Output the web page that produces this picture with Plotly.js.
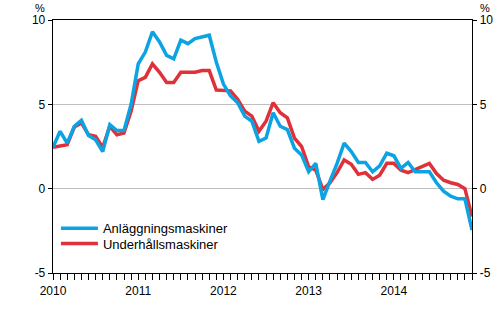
<!DOCTYPE html>
<html>
<head>
<meta charset="utf-8">
<script src="https://cdn.plot.ly/plotly-3.0.1.min.js"></script>
<style>html,body{margin:0;padding:0;background:#fff;}#chart{width:500px;height:330px;}</style>
</head>
<body>
<div id="chart"></div>
<script>
// Months Jan 2010 .. Dec 2014
var years = ["2010", "2011", "2012", "2013", "2014"];
var monthNums = ["01","02","03","04","05","06","07","08","09","10","11","12"];
var months = [];
years.forEach(function (y) { monthNums.forEach(function (m) { months.push(y + "-" + m); }); });

var seriesNames = ["Anläggningsmaskiner", "Underhållsmaskiner"];

var anlaggning = [
  2.45, 3.4, 2.7, 3.7, 4.05, 3.15, 2.9, 2.2, 3.8, 3.45, 3.45, 5.0,
  7.4, 8.1, 9.3, 8.7, 7.9, 7.7, 8.8, 8.6, 8.9, 9.0, 9.1, 7.5,
  6.2, 5.5, 5.1, 4.3, 4.0, 2.8, 3.0, 4.5, 3.7, 3.5, 2.4, 2.0,
  1.0, 1.5, -0.65, 0.45, 1.5, 2.7, 2.2, 1.55, 1.55, 1.0, 1.35, 2.1,
  1.95, 1.2, 1.55, 1.0, 1.0, 1.0, 0.35, -0.15, -0.45, -0.6, -0.6, -2.45
];
var underhall = [
  2.45, 2.55, 2.6, 3.65, 3.9, 3.2, 3.1, 2.45, 3.7, 3.2, 3.3, 4.6,
  6.4, 6.6, 7.4, 6.9, 6.3, 6.3, 6.9, 6.9, 6.9, 7.0, 7.0, 5.85,
  5.85, 5.8, 5.3, 4.6, 4.3, 3.4, 4.0, 5.1, 4.5, 4.2, 3.0, 2.5,
  1.3, 1.1, -0.05, 0.35, 0.95, 1.7, 1.45, 0.85, 0.95, 0.55, 0.8, 1.5,
  1.5, 1.1, 0.95, 1.15, 1.3, 1.5, 0.9, 0.5, 0.35, 0.25, 0.0, -1.65
];

var yTicks = [-5, 0, 5, 10];
var yTickText = ["-5", "0", "5", "10"];

var tickText = months.map(function (m) { return m.slice(5) === "01" ? m.slice(0, 4) : ""; });

var FONT = "Liberation Sans, Arial, sans-serif";

var traces = [
  { x: months, y: underhall, name: seriesNames[1], type: "scatter", mode: "lines",
    line: { color: "#e0313a", width: 3.5 }, legend: "legend2" },
  { x: months, y: anlaggning, name: seriesNames[0], type: "scatter", mode: "lines",
    line: { color: "#0ca3e2", width: 3.5 }, legend: "legend" }
];

var yaxisCommon = {
  range: [-5, 10], tickvals: yTicks, ticktext: yTickText,
  showline: true, linecolor: "#000", linewidth: 1.3,
  ticks: "outside", ticklen: 4, tickcolor: "#000",
  zeroline: false, fixedrange: true,
  tickfont: { family: FONT, size: 12, color: "#000" }
};

var legendCommon = {
  x: 0.007, xanchor: "left", yanchor: "top",
  bgcolor: "rgba(0,0,0,0)", font: { family: FONT, size: 13, color: "#000" },
  itemwidth: 37
};

var layout = {
  width: 500, height: 330,
  margin: { l: 53, r: 28, t: 20, b: 57 },
  paper_bgcolor: "#fff", plot_bgcolor: "#fff",
  showlegend: true,
  legend: Object.assign({}, legendCommon, { y: 0.236 }),
  legend2: Object.assign({}, legendCommon, { y: 0.176 }),
  xaxis: {
    type: "category", range: [0, 59],
    tickvals: months, ticktext: tickText,
    showline: true, linecolor: "#000", linewidth: 1.3, mirror: true,
    ticks: "outside", ticklen: 6, tickcolor: "#000",
    showgrid: false, zeroline: false, fixedrange: true,
    tickfont: { family: FONT, size: 12, color: "#000" }
  },
  yaxis: Object.assign({}, yaxisCommon, { showgrid: true, gridcolor: "#c0c0c0", gridwidth: 1 }),
  yaxis2: Object.assign({}, yaxisCommon, { overlaying: "y", side: "right", showgrid: false }),
  annotations: [
    { text: "%", xref: "paper", yref: "paper", x: -0.03, y: 1.0, xanchor: "center", yanchor: "bottom",
      yshift: 4, showarrow: false, font: { family: FONT, size: 11, color: "#000" } },
    { text: "%", xref: "paper", yref: "paper", x: 1.03, y: 1.0, xanchor: "center", yanchor: "bottom",
      yshift: 4, showarrow: false, font: { family: FONT, size: 11, color: "#000" } }
  ]
};

// invisible trace to activate right axis
traces.push({ x: [months[0]], y: [0], yaxis: "y2", type: "scatter", mode: "markers",
  marker: { opacity: 0 }, showlegend: false, hoverinfo: "skip" });

Plotly.newPlot("chart", traces, layout, { staticPlot: true, displayModeBar: false });
</script>
</body>
</html>
